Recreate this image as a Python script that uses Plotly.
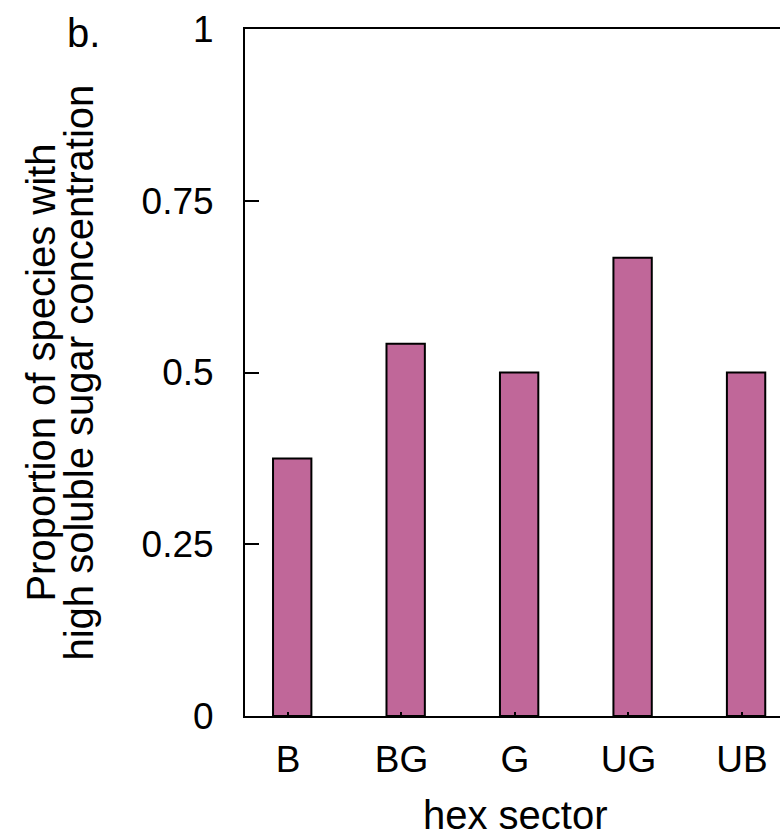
import plotly.graph_objects as go

categories = ["B", "BG", "G", "UG", "UB"]
proportions = [0.375, 0.542, 0.5, 0.667, 0.5]
y_tick_vals = [0, 0.25, 0.5, 0.75, 1]
y_tick_text = ["0", "0.25", "0.5", "0.75", "1"]

FONT = "Liberation Sans, Arial, Helvetica, sans-serif"
BAR_COLOR = "#C06799"

fig = go.Figure()
fig.add_trace(go.Bar(
    x=list(range(len(categories))),
    y=proportions,
    width=0.338,
    offset=-0.132,
    marker=dict(color=BAR_COLOR, line=dict(color="black", width=2)),
    showlegend=False,
))

fig.update_layout(
    width=780, height=838,
    margin=dict(l=245, r=0, t=29, b=122),
    paper_bgcolor="white", plot_bgcolor="white",
    font=dict(family=FONT, size=37, color="black"),
    xaxis=dict(
        range=[-0.379, 4.336],
        tickmode="array",
        tickvals=list(range(len(categories))),
        ticktext=categories,
        ticks="inside", ticklen=4, tickwidth=1.5, tickcolor="black",
        showline=True, linecolor="black", linewidth=2, mirror=True,
        showgrid=False, zeroline=False,
        tickfont=dict(size=37),
        ticklabelstandoff=10,
    ),
    yaxis=dict(
        range=[0, 1],
        tickmode="array",
        tickvals=y_tick_vals,
        ticktext=y_tick_text,
        ticks="inside", ticklen=14, tickwidth=2, tickcolor="black",
        showline=True, linecolor="black", linewidth=2, mirror=False,
        showgrid=False, zeroline=False,
        tickfont=dict(size=37),
        ticklabelstandoff=22,
    ),
    annotations=[
        dict(text="Proportion of species with", xref="paper", yref="paper",
             x=-0.383, y=0.5, xanchor="center", yanchor="middle",
             textangle=-90, showarrow=False, font=dict(size=40)),
        dict(text="high soluble sugar concentration", xref="paper", yref="paper",
             x=-0.312, y=0.5, xanchor="center", yanchor="middle",
             textangle=-90, showarrow=False, font=dict(size=40)),
        dict(text="hex sector", xref="paper", yref="paper",
             x=0.505, y=-0.144, xanchor="center", yanchor="middle",
             showarrow=False, font=dict(size=40)),
        dict(text="b.", xref="paper", yref="paper",
             x=-0.301, y=0.994, xanchor="center", yanchor="middle",
             showarrow=False, font=dict(size=40)),
    ],
)

fig.write_html(
    "out.html",
    config={"displayModeBar": False},
    post_script="document.body.style.margin='0';document.body.style.overflow='hidden';",
)
